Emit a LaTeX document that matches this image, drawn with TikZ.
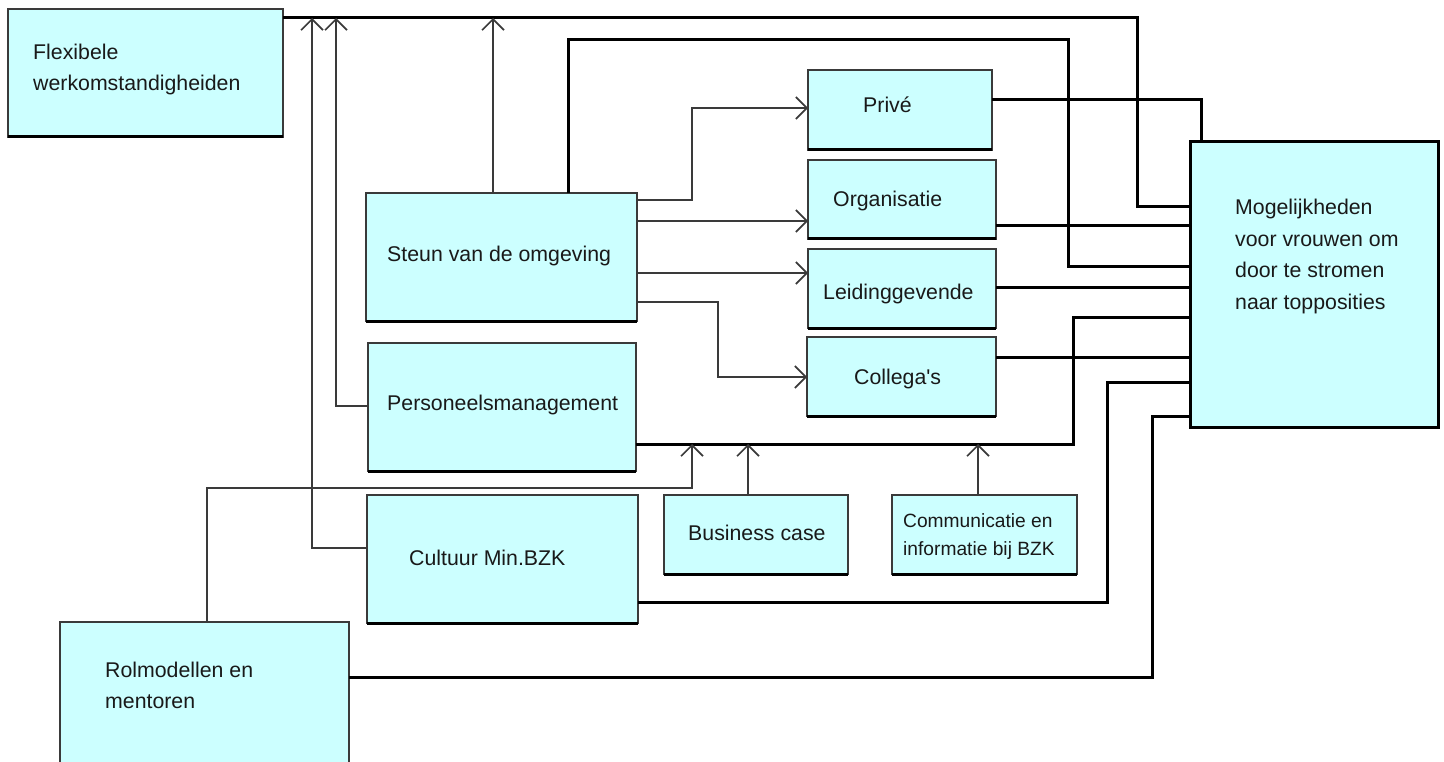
\documentclass[tikz,border=0pt]{standalone}
\usepackage{fontspec}
\setmainfont{Liberation Sans}
\usetikzlibrary{arrows.meta}
\definecolor{boxfill}{HTML}{CCFFFF}
\definecolor{edge}{HTML}{3A3A3A}
\begin{document}
\begin{tikzpicture}[x=1pt,y=-1pt,
  box/.style={draw=edge, line width=1.3pt, fill=boxfill, inner sep=0pt, outer sep=0pt,
    anchor=north west, minimum width=#1},
  boxbottom/.style={line width=3pt, draw=black},
  txt/.style={anchor=base west, inner sep=0pt, text=black!90, font=\fontsize{21.3}{24}\selectfont},
  smalltxt/.style={txt, font=\fontsize{19.2}{22}\selectfont},
  thk/.style={line width=3pt, draw=black},
  arr/.style={line width=1.6pt, draw=edge, -{Straight Barb[length=11pt,width=22pt,line width=1.6pt]}},
  thn/.style={line width=1.6pt, draw=edge}
]
\useasboundingbox (0,0) rectangle (1444,762);
\clip (0,0) rectangle (1444,762);

% boxes
\node[box=275pt, minimum height=128pt] (flex)   at (8,9) {};
\node[box=271pt, minimum height=128pt] (steun)  at (366,193) {};
\node[box=268pt, minimum height=128pt] (pers)   at (368,343) {};
\node[box=271pt, minimum height=128pt] (cult)   at (367,495) {};
\node[box=184pt, minimum height=79pt]  (bus)    at (664,495) {};
\node[box=185pt, minimum height=79pt]  (comm)   at (892,495) {};
\node[box=184pt, minimum height=80pt]  (prive)  at (808,70) {};
\node[box=188pt, minimum height=79pt]  (org)    at (808,160) {};
\node[box=188pt, minimum height=79pt]  (leid)   at (808,249) {};
\node[box=189pt, minimum height=79pt]  (coll)   at (807,337) {};
\node[box=289pt, minimum height=160pt] (rol)    at (60,622) {};
\node[box=248pt, minimum height=285pt, draw=black, line width=3pt] (mog) at (1190,142) {};

% thicker bottom edges
\foreach \b in {flex,steun,pers,cult,bus,comm,prive,org,leid,coll}
  \draw[boxbottom] (\b.south west) -- (\b.south east);

% texts
\node[txt] (tflexa) at (33,60) {Flexibele};
\node[txt] (tflexb) at (33,91) {werkomstandigheiden};
\node[txt] (tsteun) at (387,262) {Steun van de omgeving};
\node[txt] (tpers)  at (387,410) {Personeelsmanagement};
\node[txt] (tcult)  at (409,565) {Cultuur Min.BZK};
\node[txt] (tbus)   at (688,540) {Business case};
\node[smalltxt] (tcomma) at (903,527) {Communicatie en};
\node[smalltxt] (tcommb) at (903,555) {informatie bij BZK};
\node[txt] (tprive) at (863,113) {Privé};
\node[txt] (torg)   at (833,207) {Organisatie};
\node[txt] (tleid)  at (823,300) {Leidinggevende};
\node[txt] (tcoll)  at (854,384) {Collega\textquotesingle s};
\node[txt] (tmoga)  at (1235,215) {Mogelijkheden};
\node[txt] (tmogb)  at (1235,247) {voor vrouwen om};
\node[txt] (tmogc)  at (1235,278) {door te stromen};
\node[txt] (tmogd)  at (1235,309) {naar topposities};
\node[txt] (trola)  at (105,677) {Rolmodellen en};
\node[txt] (trolb)  at (105,708) {mentoren};

% arrow targets on lines
\coordinate (t1) at (312,18);
\coordinate (t2) at (336,18);
\coordinate (t3) at (493,18);
\coordinate (t4) at (692,444);
\coordinate (t5) at (748,444);
\coordinate (t6) at (978,444);

% thick connectors into Mogelijkheden
\draw[thk] (flex.east |- 0,18) -- (1137,18) |- (mog.west |- 0,207);
\draw[thk] (steun.north -| 568,0) |- (1068,40) |- (mog.west |- 0,267);
\draw[thk] (prive.east |- 0,100) -| (mog.north -| 1201,0);
\draw[thk] (org.east |- 0,226) -- (mog.west |- 0,226);
\draw[thk] (leid.east |- 0,288) -- (mog.west |- 0,288);
\draw[thk] (coll.east |- 0,357) -- (mog.west |- 0,357);
\draw[thk] (pers.east |- 0,444) -| (1073,317) -- (mog.west |- 0,317);
\draw[thk] (cult.east |- 0,602) -| (1107,382) -- (mog.west |- 0,382);
\draw[thk] (rol.east |- 0,677) -| (1152,416) -- (mog.west |- 0,416);

% thin arrows
\draw[arr] (cult.west |- 0,548) -| (t1);
\draw[arr] (pers.west |- 0,406) -| (t2);
\draw[arr] (steun.north -| 493,0) -- (t3);
\draw[arr] (steun.east |- 0,200) -| (692,108) -- (prive.west |- 0,108);
\draw[arr] (steun.east |- 0,221) -- (org.west |- 0,221);
\draw[arr] (steun.east |- 0,273) -- (leid.west |- 0,273);
\draw[arr] (steun.east |- 0,302) -| (718,377) -- (coll.west |- 0,377);
\draw[arr] (rol.north -| 207,0) |- (692,488) -- (t4);
\draw[arr] (bus.north -| 748,0) -- (t5);
\draw[arr] (comm.north -| 978,0) -- (t6);
\end{tikzpicture}
\end{document}
